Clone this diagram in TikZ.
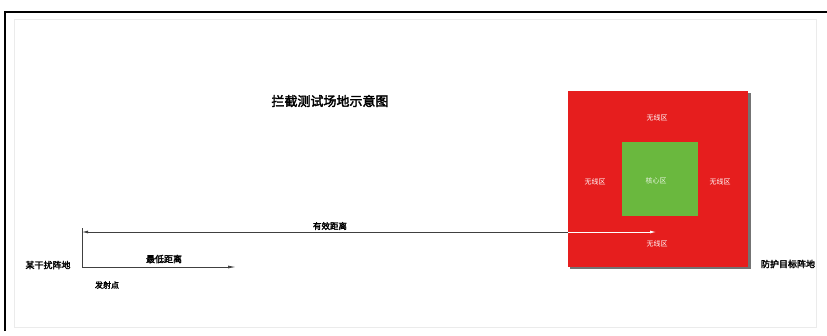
\documentclass[tikz,border=0pt]{standalone}
\usepackage{fontspec}
\newfontfamily\cjk[AutoFakeBold=2.5]{Noto Sans CJK SC}
\usetikzlibrary{arrows.meta}
\definecolor{zred}{RGB}{230,30,30}
\definecolor{zgreen}{RGB}{106,184,62}
\begin{document}
\begin{tikzpicture}[x=1pt,y=-1pt,
  lbl/.style={font=\cjk\bfseries\fontsize{9}{10}\selectfont,inner sep=0pt},
  zlbl/.style={font=\cjk\fontsize{7}{8}\selectfont,text=white,inner sep=0pt},
  dimline/.style={draw=black!75,line width=0.8pt}]
\useasboundingbox (0,0) rectangle (827,335);
\fill[white] (0,0) rectangle (827,335);
% frames
\draw[line width=2pt] (5,331) -- (5,12) -- (827,12);
\draw[black!8,line width=0.6pt] (14,19) rectangle (816,327);
% title
\node[font=\cjk\bfseries\fontsize{13}{15}\selectfont,inner sep=0pt] (title) at (330,101) {拦截测试场地示意图};
% zones
\fill[black!55] (570,93) rectangle (751,269);
\node[fill=zred,minimum width=180pt,minimum height=176pt,inner sep=0pt] (red) at (658,179) {};
\node[fill=zgreen,minimum width=76pt,minimum height=74pt,inner sep=0pt] (green) at (660,179) {};
\node[zlbl] (ztop) at (657,118) {无线区};
\node[zlbl] (zleft) at (595,182) {无线区};
\node[zlbl] (zright) at (720,182) {无线区};
\node[zlbl] (zbot) at (657,244) {无线区};
\node[zlbl,text=white!85!zgreen] (zc) at (656,181) {核心区};
% points
\coordinate (o) at (82,267);
\coordinate (up) at (82,232);
\coordinate (tgt) at (656,232);
\coordinate (near) at (236,267);
\draw[dimline] (82,228) -- (o);
\draw[dimline,{Latex[length=6pt,width=3pt]}-] (up) -- (568,232);
\draw[white,line width=0.8pt,-{Latex[length=6pt,width=3pt]}] (568,232) -- (tgt);
\draw[dimline,-{Latex[length=8pt,width=3pt]}] (o) -- (near);
% labels
\node[lbl,font=\cjk\bfseries\fontsize{8.5}{10}\selectfont] (l1) at (330,226) {有效距离};
\node[lbl] (l2) at (164,259) {最低距离};
\node[lbl] (l3) at (48,265) {某干扰阵地};
\node[lbl,font=\cjk\bfseries\fontsize{8}{10}\selectfont] (l4) at (107,285) {发射点};
\node[lbl] (l5) at (788,264) {防护目标阵地};
\end{tikzpicture}
\end{document}
